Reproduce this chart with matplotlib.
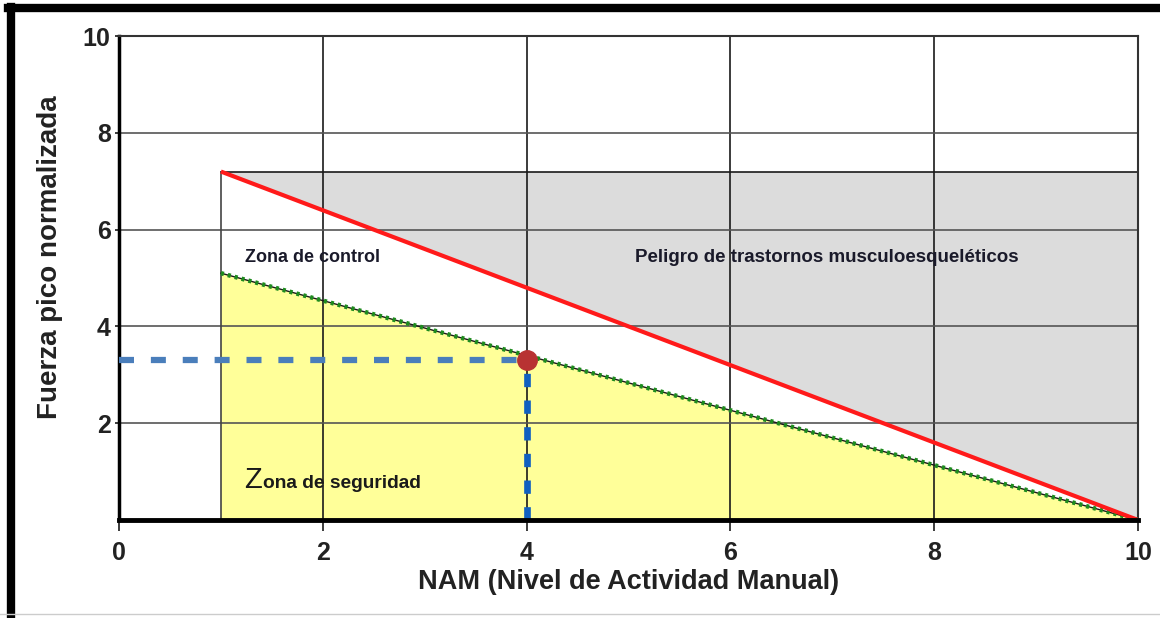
import matplotlib.pyplot as plt
from matplotlib.lines import Line2D

# data
x_ticks = [0, 2, 4, 6, 8, 10]
y_ticks = [2, 4, 6, 8, 10]
limit_x = [1, 10]          # red line (upper limit)
limit_y = [7.2, 0]
action_x = [1, 10]         # green dotted line (action limit)
action_y = [5.1, 0]
danger_top = 7.2
point_x = 4
point_y = 3.3

plt.rcParams['font.family'] = ['Liberation Sans', 'DejaVu Sans']

fig = plt.figure(figsize=(11.6, 6.18), dpi=100)
ax = fig.add_axes([0.1026, 0.1586, 0.8784, 0.7831])
ax.set_xlim(0, 10)
ax.set_ylim(0, 10)

# shaded zones
ax.fill([limit_x[0], limit_x[0], limit_x[1], limit_x[1]],
        [limit_y[0], danger_top, danger_top, limit_y[1]],
        color='#dcdcdc', zorder=1, lw=0)
ax.fill([action_x[0], action_x[0], action_x[1]], [0, action_y[0], action_y[1]],
        color='#ffff99', zorder=1, lw=0)

# grid
for gx in x_ticks[1:-1]:
    ax.axvline(gx, color='#1a1a1a', lw=1.2, zorder=2)
for gy in y_ticks[:-1]:
    ax.axhline(gy, color='#555555', lw=1.2, zorder=2)
ax.plot([limit_x[0], limit_x[1]], [danger_top, danger_top], color='#1a1a1a', lw=1.2, zorder=2)
ax.plot([limit_x[0], limit_x[0]], [0, danger_top], color='#444444', lw=1.2, zorder=2)

# limit lines
ax.plot(action_x, action_y, color='#1a1a1a', lw=1.0, zorder=3)
ax.plot(action_x, action_y, color='#1e8c1e', lw=3.2, ls=(0, (0.7, 0.9)), zorder=4)
ax.plot(limit_x, limit_y, color='#ff1a1a', lw=3, zorder=5, solid_capstyle='butt')

# reading of the point
ax.plot([0, point_x], [point_y, point_y], color='#4a7ebb', lw=4.5, ls=(0, (2.4, 2.7)), zorder=6)
ax.plot([point_x, point_x], [0, point_y], color='#1060c0', lw=4.8, ls=(0, (2.0, 2.0)), zorder=6)
ax.plot([point_x], [point_y], 'o', color='#b83232', ms=14, zorder=7)

# zone labels
ax.text(1.24, 5.43, 'Zona de control', fontsize=13, fontweight='bold', color='#1a1a2a',
        va='center', ha='left', zorder=8)
ax.text(5.06, 5.43, 'Peligro de trastornos musculoesqueléticos', fontsize=13.5,
        fontweight='bold', color='#1a1a2a', va='center', ha='left', zorder=8)
ax.text(1.23, 0.66, 'Z', fontsize=21, color='#1a1a1a', va='baseline', ha='left', zorder=8)
ax.text(1.41, 0.66, 'ona de seguridad', fontsize=13.8, fontweight='bold', color='#1a1a1a',
        va='baseline', ha='left', zorder=8)

# axes look
ax.set_xticks(x_ticks)
ax.set_yticks(y_ticks)
ax.set_xticklabels([str(v) for v in x_ticks], fontsize=18, fontweight='bold', color='#222222')
ax.set_yticklabels([str(v) for v in y_ticks], fontsize=18, fontweight='bold', color='#222222')
ax.tick_params(axis='x', length=8, width=1.2, pad=7, color='#1a1a1a')
ax.tick_params(axis='y', length=3, width=1.2, pad=3, color='#1a1a1a')
for side in ['top', 'right']:
    ax.spines[side].set_linewidth(1.5)
    ax.spines[side].set_color('#333333')
ax.spines['left'].set_linewidth(2.5)
ax.spines['bottom'].set_linewidth(3.5)
ax.spines['bottom'].set_zorder(6)

ax.set_xlabel('NAM (Nivel de Actividad Manual)', fontsize=19.5, fontweight='bold',
              color='#222222', labelpad=3)
ax.set_ylabel('Fuerza pico normalizada', fontsize=20, fontweight='bold', color='#222222')
ax.yaxis.set_label_coords(-0.055, 0.543)

# outer frame of the picture
fig.add_artist(Line2D([0.0097, 0.0097], [0, 0.9887], color='black', lw=6, transform=fig.transFigure))
fig.add_artist(Line2D([0.0072, 1], [0.9863, 0.9863], color='black', lw=6, transform=fig.transFigure))
fig.add_artist(Line2D([0.0, 1], [0.006, 0.006], color='#cccccc', lw=1, transform=fig.transFigure))

fig.savefig('out.png', dpi=100)
